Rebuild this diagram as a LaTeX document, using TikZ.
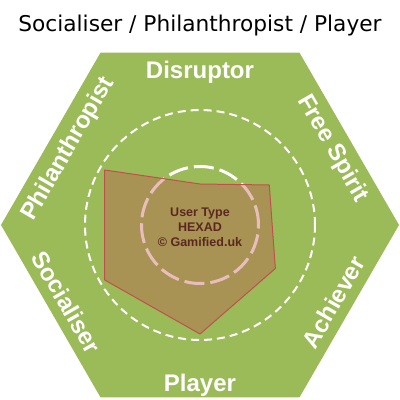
\documentclass[tikz,border=0pt]{standalone}
\usepackage{fontspec}
\setmainfont{Liberation Sans}
\newfontfamily\titlefont{DejaVu Sans}
\usepackage{tikz}
\usetikzlibrary{calc}
\usepackage{tkz-euclide}

\definecolor{hexgreen}{HTML}{9BBB59}
\definecolor{hexred}{HTML}{C0504D}
\definecolor{hexbrown}{HTML}{5A2820}

\tikzset{
  typelabel/.style={text=white, inner sep=0pt, font=\fontsize{24}{28}\selectfont\bfseries},
  centrelabel/.style={text=hexbrown, inner sep=0pt, align=center, font=\fontsize{12.5}{15}\selectfont\bfseries}
}

\begin{document}
\begin{tikzpicture}[x=1pt,y=1pt]
        \useasboundingbox (-200,-175) rectangle (200,225);
        \tkzDefPoint(0,0){O}

        % hexagon
        \tkzDefPoint(0:199){H1} \tkzDefPoint(60:199){H2} \tkzDefPoint(120:199){H3}
        \tkzDefPoint(180:199){H4} \tkzDefPoint(240:199){H5} \tkzDefPoint(300:199){H6}
        \tkzDrawPolygon[draw=none, fill=hexgreen](H1,H2,H3,H4,H5,H6)

        % rings
        \draw[white, line width=2pt, dash pattern=on 8pt off 5pt] (O) circle[radius=115];
        \draw[white, line width=3pt, dash pattern=on 20pt off 6pt] (O) circle[radius=58.5];

        % scores on the six axes
        \tkzDefPoint(90:41){Dis}   \tkzDefPoint(30:80){Fre}
        \tkzDefPoint(-30:87){Ach}  \tkzDefPoint(-90:109){Pla}
        \tkzDefPoint(210:110){Soc} \tkzDefPoint(150:110){Phi}
        \tkzDrawPolygon[draw=hexred, line width=1pt, fill=hexred, fill opacity=0.37](Phi,Dis,Fre,Ach,Pla,Soc)

        % labels
        \node[typelabel] (disruptor) at (90:153) {Disruptor};
        \node[typelabel, rotate=-60] (freespirit) at (30:153) {Free Spirit};
        \node[typelabel, rotate=60] (achiever) at (-30:154) {Achiever};
        \node[typelabel] (player) at (-90:160) {Player};
        \node[typelabel, rotate=-60] (socialiser) at (210:154) {Socialiser};
        \node[typelabel, rotate=60] (philanthropist) at (150:152) {Philanthropist};

        \node[centrelabel] (hexad) at (0,-2) {User Type\\HEXAD\\\textcopyright{} Gamified.uk};

        \node[anchor=base, inner sep=0pt, font=\titlefont\fontsize{21.7}{26}\selectfont] (title) at (0,194) {Socialiser / Philanthropist / Player};
\end{tikzpicture}
\end{document}
